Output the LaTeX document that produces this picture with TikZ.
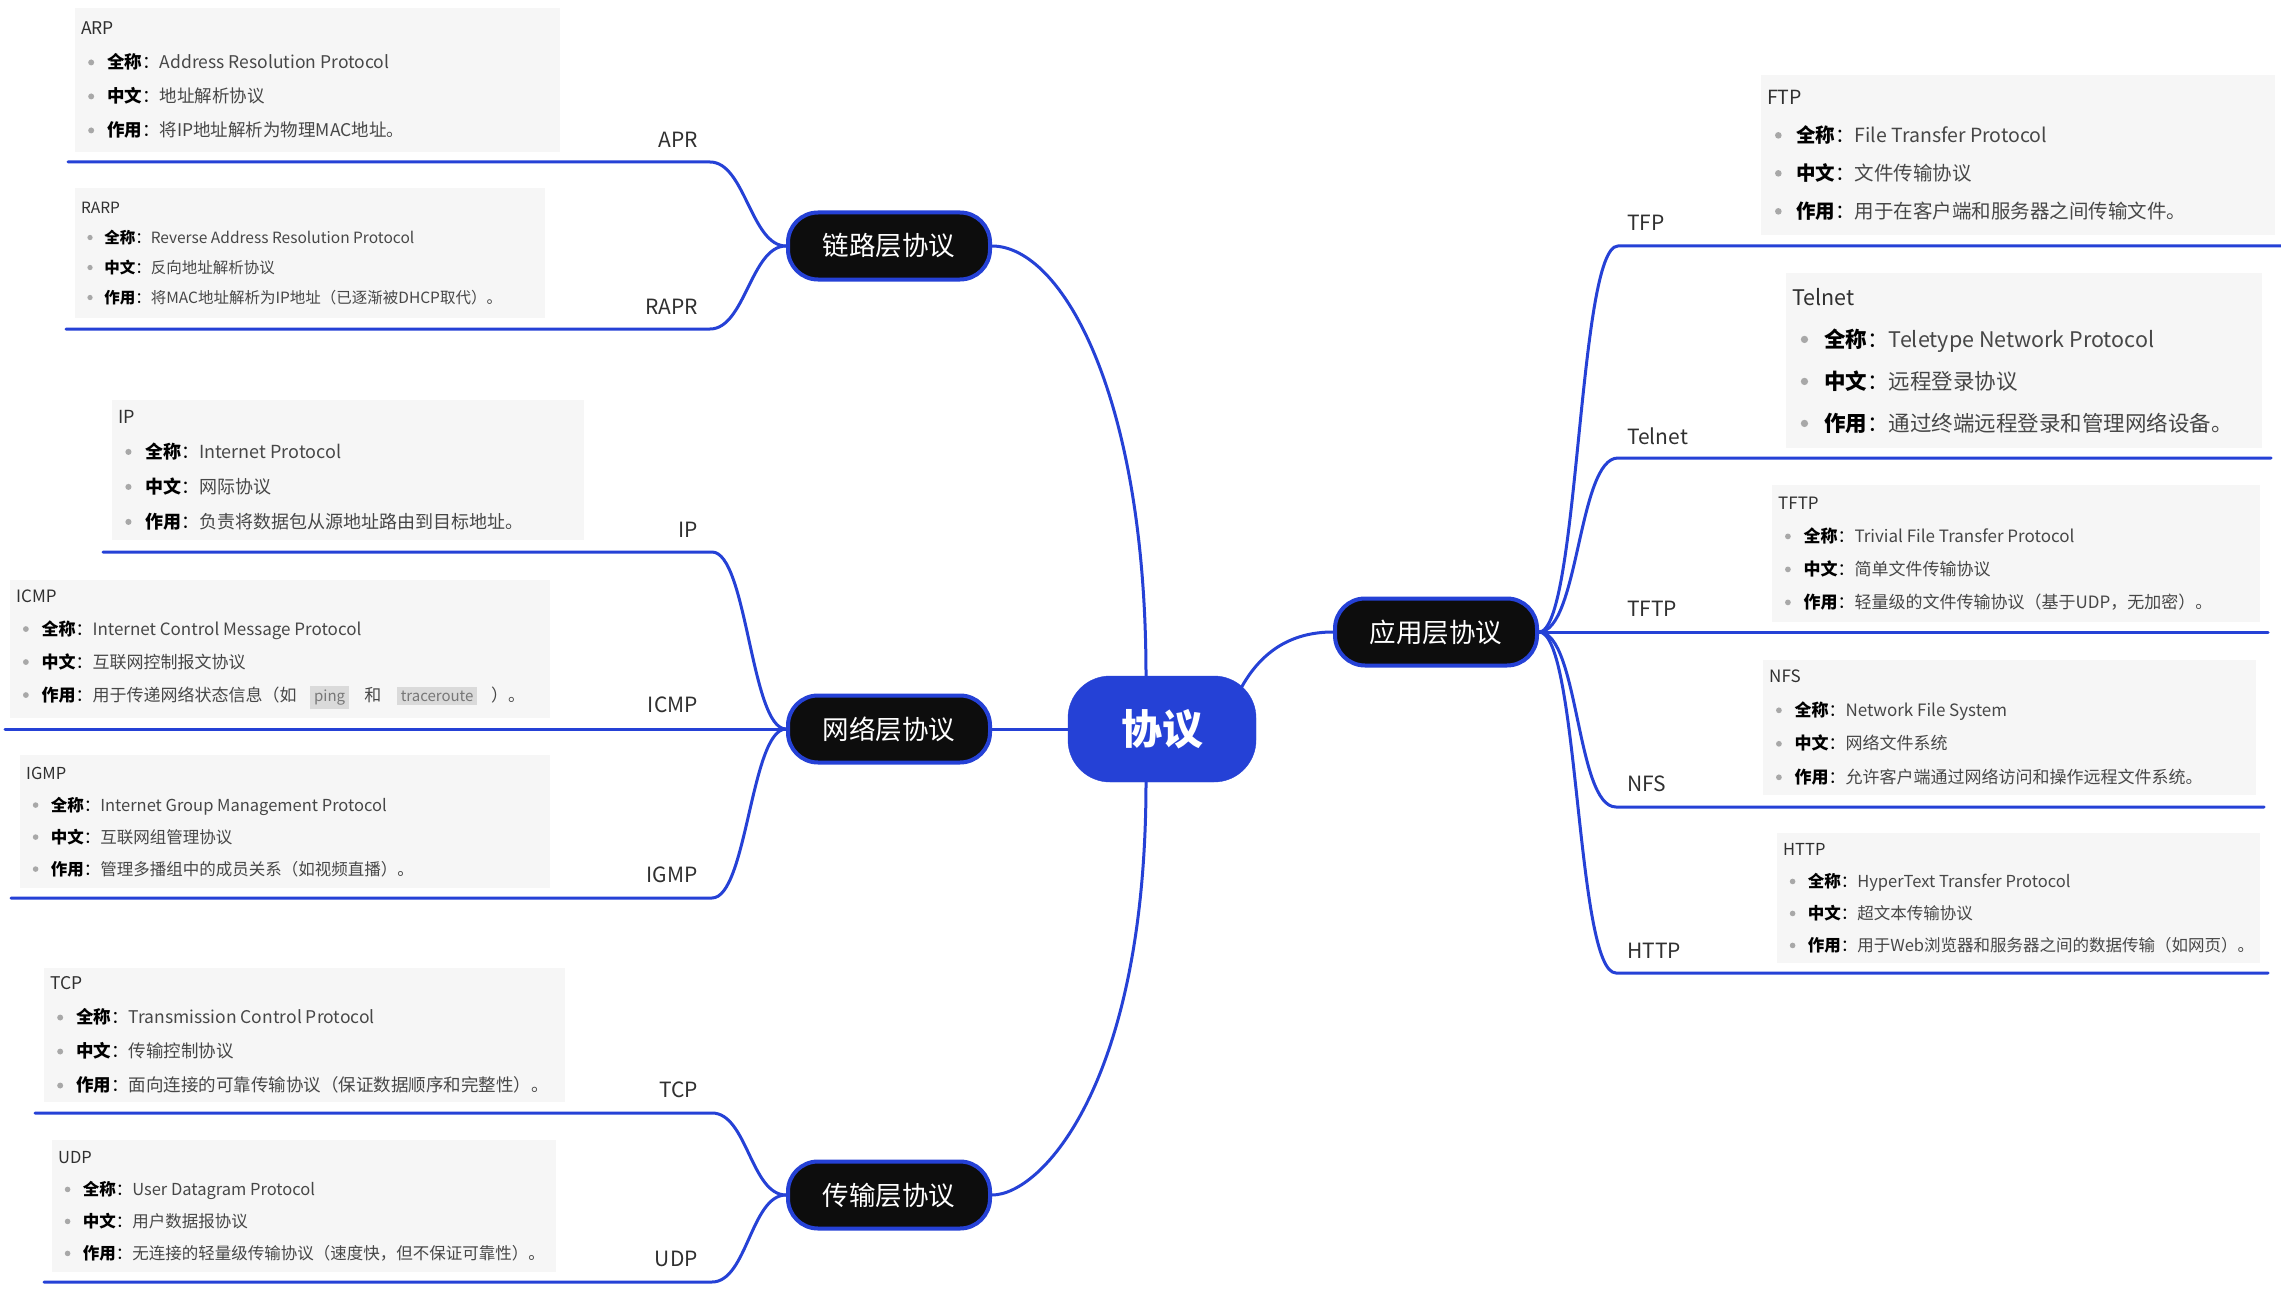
\documentclass[tikz,border=0pt]{standalone}
\usepackage{fontspec}
\usepackage{graphicx}
\setmainfont{Noto Sans CJK SC}
\usetikzlibrary{calc,positioning}
\definecolor{mapblue}{HTML}{2541D6}
\definecolor{pill}{HTML}{0D0D0D}
\definecolor{boxgray}{HTML}{F6F6F6}
\definecolor{labgray}{HTML}{303030}
\definecolor{txtgray}{HTML}{474747}
\definecolor{dotgray}{HTML}{A8A8A8}
\definecolor{codebg}{HTML}{DADADA}
\definecolor{codetxt}{HTML}{777777}
\newcommand{\fs}[2]{\fontsize{#1pt}{#2pt}\selectfont}
\newcommand{\dotmark}{\tikz[baseline=-0.36em]\fill[dotgray] (0,0) circle[radius=0.17em];}
\newcommand{\bul}[2]{\hspace*{0.4em}\dotmark\hspace{0.75em}{\color{black}\textbf{#1}：}{\color{txtgray}#2}}
\newcommand{\codetag}[1]{{\setlength{\fboxsep}{4pt}\colorbox{codebg}{\color{codetxt}\fs{15}{15}#1}}}
\newcommand{\protobox}[8]{%
  \node[infobox,minimum width=#4pt,minimum height=#5pt] (#1box) at (#2,#3) {};
  \node[infotext,font=\fs{#6}{#7}] (#1txt) at (#1box.west) {#8};}

\begin{document}
\begin{tikzpicture}[x=1pt,y=1pt,line cap=round,
    branch/.style={mapblue,line width=3pt},
    layer/.style={fill=pill,draw=mapblue,line width=4pt,rounded corners=30pt,
      minimum width=202pt,minimum height=67pt,text=white,font=\fs{26.5}{30}},
    rootnode/.style={fill=mapblue,draw=mapblue,rounded corners=42pt,
      minimum width=188pt,minimum height=106pt,text=white,font=\bfseries\fs{41}{44}},
    brlabel/.style={text=labgray,font=\fs{21}{24},inner sep=0pt},
    infobox/.style={fill=boxgray,anchor=north west,inner sep=0pt},
    infotext/.style={anchor=west,align=left,inner xsep=6pt,inner ysep=0pt,text=labgray}]
  \fill[white] (0,0) rectangle (2281,-1292);
  \useasboundingbox (0,0) rectangle (2281,-1292);

  \node[rootnode] (root) at (1162,-729) {协议};
  \node[layer] (link)  at (889,-246)  {链路层协议};
  \node[layer] (net)   at (889,-729)  {网络层协议};
  \node[layer] (trans) at (889,-1195) {传输层协议};
  \node[layer] (app)   at (1436,-632) {应用层协议};

  \coordinate (rootN)  at ([xshift=-16pt]root.north);
  \coordinate (rootS)  at ([xshift=-16pt]root.south);
  \coordinate (rootNE) at ($(root.center)+(78,39)$);
  \draw[branch] (link.east) to[out=0,in=90,out distance=70pt,in distance=280pt] (rootN);
  \draw[branch] (trans.east) to[out=0,in=-90,out distance=50pt,in distance=300pt] (rootS);
  \draw[branch] (root.west) -- (net.east);
  \draw[branch] (rootNE) to[out=62,in=180] (app.west);

  \protobox{arp}{75}{-8}{485}{144}{17.5}{34}{ARP\\
    \bul{全称}{Address Resolution Protocol}\\
    \bul{中文}{地址解析协议}\\
    \bul{作用}{将IP地址解析为物理MAC地址。}}
  \protobox{rarp}{75}{-188}{470}{130}{15.5}{30}{RARP\\
    \bul{全称}{Reverse Address Resolution Protocol}\\
    \bul{中文}{反向地址解析协议}\\
    \bul{作用}{将MAC地址解析为IP地址（已逐渐被DHCP取代）。}}
  \protobox{ip}{112}{-400}{472}{140}{18}{35}{IP\\
    \bul{全称}{Internet Protocol}\\
    \bul{中文}{网际协议}\\
    \bul{作用}{负责将数据包从源地址路由到目标地址。}}
  \protobox{icmp}{10}{-580}{540}{138}{17}{33}{ICMP\\
    \bul{全称}{Internet Control Message Protocol}\\
    \bul{中文}{互联网控制报文协议}\\
    \bul{作用}{用于传递网络状态信息（如\hspace{0.8em}\codetag{ping}\hspace{0.9em}和\hspace{0.9em}\codetag{traceroute}\hspace{0.8em}）。}}
  \protobox{igmp}{20}{-755}{530}{133}{16.5}{32}{IGMP\\
    \bul{全称}{Internet Group Management Protocol}\\
    \bul{中文}{互联网组管理协议}\\
    \bul{作用}{管理多播组中的成员关系（如视频直播）。}}
  \protobox{tcp}{44}{-968}{521}{134}{17.5}{34}{TCP\\
    \bul{全称}{Transmission Control Protocol}\\
    \bul{中文}{传输控制协议}\\
    \bul{作用}{面向连接的可靠传输协议（保证数据顺序和完整性）。}}
  \protobox{udp}{52}{-1140}{504}{132}{16.5}{32}{UDP\\
    \bul{全称}{User Datagram Protocol}\\
    \bul{中文}{用户数据报协议}\\
    \bul{作用}{无连接的轻量级传输协议（速度快，但不保证可靠性）。}}
  \protobox{ftp}{1761}{-75}{514}{160}{19.5}{38}{FTP\\
    \bul{全称}{File Transfer Protocol}\\
    \bul{中文}{文件传输协议}\\
    \bul{作用}{用于在客户端和服务器之间传输文件。}}
  \protobox{telnet}{1786}{-273}{476}{175}{21.5}{42}{Telnet\\
    \bul{全称}{Teletype Network Protocol}\\
    \bul{中文}{远程登录协议}\\
    \bul{作用}{通过终端远程登录和管理网络设备。}}
  \protobox{tftp}{1772}{-485}{488}{137}{17}{33}{TFTP\\
    \bul{全称}{Trivial File Transfer Protocol}\\
    \bul{中文}{简单文件传输协议}\\
    \bul{作用}{轻量级的文件传输协议（基于UDP，无加密）。}}
  \protobox{nfs}{1763}{-660}{493}{135}{17}{33.5}{NFS\\
    \bul{全称}{Network File System}\\
    \bul{中文}{网络文件系统}\\
    \bul{作用}{允许客户端通过网络访问和操作远程文件系统。}}
  \protobox{http}{1777}{-833}{483}{130}{16.5}{32}{HTTP\\
    \bul{全称}{HyperText Transfer Protocol}\\
    \bul{中文}{超文本传输协议}\\
    \bul{作用}{用于Web浏览器和服务器之间的数据传输（如网页）。}}

  \node[brlabel,anchor=east] (aprlab)  at (698,-140)  {APR};
  \node[brlabel,anchor=east] (raprlab) at (698,-307)  {RAPR};
  \node[brlabel,anchor=east] (iplab)   at (698,-530)  {IP};
  \node[brlabel,anchor=east] (icmplab) at (698,-705)  {ICMP};
  \node[brlabel,anchor=east] (igmplab) at (698,-875)  {IGMP};
  \node[brlabel,anchor=east] (tcplab)  at (698,-1090) {TCP};
  \node[brlabel,anchor=east] (udplab)  at (698,-1259) {UDP};
  \node[brlabel,anchor=west] (tfplab)    at (1627,-223) {TFP};
  \node[brlabel,anchor=west] (telnetlab) at (1627,-436) {Telnet};
  \node[brlabel,anchor=west] (tftplab)   at (1627,-609) {TFTP};
  \node[brlabel,anchor=west] (nfslab)    at (1627,-784) {NFS};
  \node[brlabel,anchor=west] (httplab)   at (1627,-951) {HTTP};

  \coordinate (aprS) at (68,-162);   \coordinate (aprE) at (710,-162);
  \coordinate (raprS) at (66,-329);  \coordinate (raprE) at (710,-329);
  \coordinate (ipS) at (103,-552);   \coordinate (ipE) at (712,-552);
  \coordinate (icmpS) at (5,-729);
  \coordinate (igmpS) at (11,-898);  \coordinate (igmpE) at (712,-898);
  \coordinate (tcpS) at (35,-1113);  \coordinate (tcpE) at (712,-1113);
  \coordinate (udpS) at (44,-1282);  \coordinate (udpE) at (712,-1282);
  \coordinate (tfpS) at (1618,-246);    \coordinate (tfpE) at (2281,-246);
  \coordinate (telnetS) at (1618,-458); \coordinate (telnetE) at (2271,-458);
  \coordinate (tftpE) at (2268,-632);
  \coordinate (nfsS) at (1616,-807);    \coordinate (nfsE) at (2264,-807);
  \coordinate (httpS) at (1616,-973);   \coordinate (httpE) at (2268,-973);

  \draw[branch] (aprS) -- (aprE) to[out=0,in=180,distance=35pt] (link.west);
  \draw[branch] (raprS) -- (raprE) to[out=0,in=180,distance=35pt] (link.west);
  \draw[branch] (ipS) -- (ipE) to[out=0,in=180,distance=35pt] (net.west);
  \draw[branch] (icmpS) -- (net.west);
  \draw[branch] (igmpS) -- (igmpE) to[out=0,in=180,distance=35pt] (net.west);
  \draw[branch] (tcpS) -- (tcpE) to[out=0,in=180,distance=35pt] (trans.west);
  \draw[branch] (udpS) -- (udpE) to[out=0,in=180,distance=35pt] (trans.west);
  \draw[branch] (app.east) to[out=0,in=180,distance=40pt] (tfpS) -- (tfpE);
  \draw[branch] (app.east) to[out=0,in=180,distance=40pt] (telnetS) -- (telnetE);
  \draw[branch] (app.east) -- (tftpE);
  \draw[branch] (app.east) to[out=0,in=180,distance=40pt] (nfsS) -- (nfsE);
  \draw[branch] (app.east) to[out=0,in=180,distance=40pt] (httpS) -- (httpE);
\end{tikzpicture}
\end{document}
